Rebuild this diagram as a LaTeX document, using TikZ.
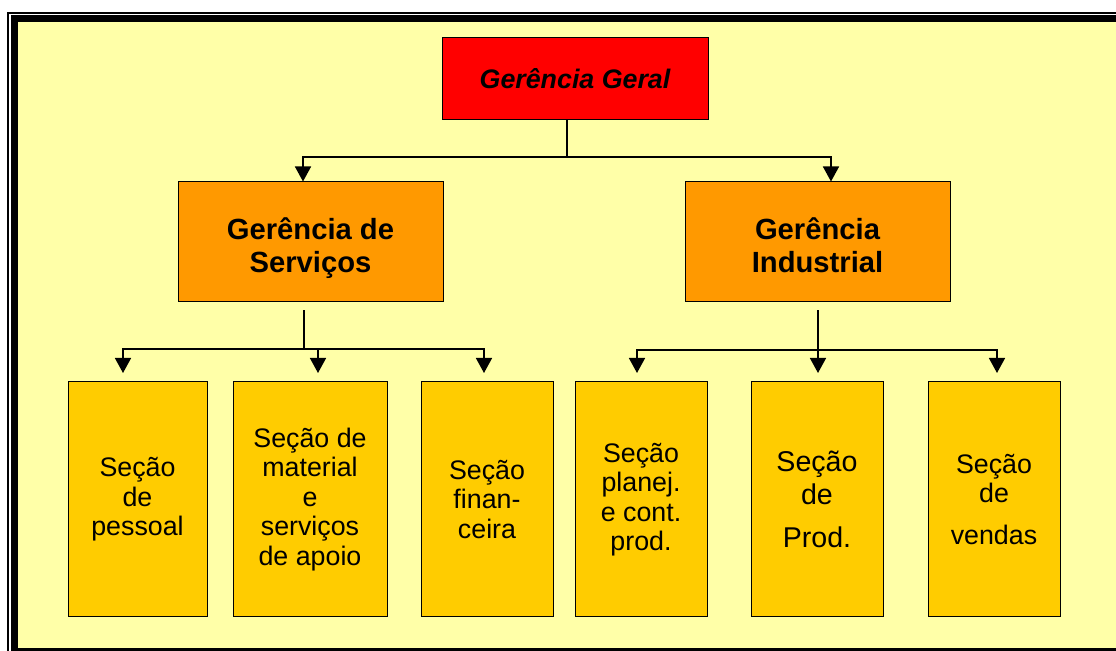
\documentclass[tikz,border=0pt]{standalone}
\usepackage{fontspec}
\setmainfont{Liberation Sans}
\usepackage{xcolor}
\usetikzlibrary{positioning, arrows.meta, calc}

\definecolor{fundo}{RGB}{255,255,168}
\definecolor{vermelho}{RGB}{255,0,0}
\definecolor{laranja}{RGB}{255,153,0}
\definecolor{ouro}{RGB}{255,204,0}

\tikzset{
  caixa/.style={draw=black, line width=0.5pt, align=center, inner sep=0pt},
  gerente/.style={caixa, fill=laranja, minimum width=132.5pt, minimum height=60pt,
    font=\fontsize{14.6}{16.5}\selectfont\bfseries},
  secao/.style={caixa, fill=ouro, minimum height=117.5pt,
    font=\fontsize{13.4}{14.75}\selectfont},
  linha/.style={line width=0.75pt},
  seta/.style={linha, -{Triangle[length=7.5pt,width=8pt]}}
}

\begin{document}
\begin{tikzpicture}[x=0.5pt, y=-0.5pt]
		\useasboundingbox (0,0) rectangle (1116,651);
		\clip (0,0) rectangle (1116,651);
		
		% Moldura
		\fill[white] (0,0) rectangle (1116,651);
		\draw[linha] (8,13) rectangle (1140,670);
		\fill[black] (11,15.5) rectangle (1135,665);
		\fill[fundo] (17.5,22) rectangle (1130,648);
		
		% Gerencias
		\node[caixa, fill=vermelho, minimum width=133pt, minimum height=41pt,
		font=\fontsize{13.4}{16}\selectfont\bfseries\itshape] (geral) at (575,79) {Ger\^encia Geral};
		\node[gerente] (serv) at (310.5,242) {\rule{0pt}{17pt}Ger\^encia de\\Servi\c{c}os};
		\node[gerente] (ind) at (817.5,242) {\rule{0pt}{14pt}Ger\^encia\\Industrial};
		
		% Secoes
		\node[secao, minimum width=69.5pt] (pes) at (137.5,499.5) {Se\c{c}\~ao\\de\\pessoal};
		\node[secao, minimum width=77pt] (mat) at (310,499.5) {Se\c{c}\~ao de\\material\\e\\servi\c{c}os\\de apoio};
		\node[secao, minimum width=66pt] (fin) at (487,499.5) {Se\c{c}\~ao\\finan-\\ceira};
		\node[secao, minimum width=66pt] (pla) at (641,499.5) {Se\c{c}\~ao\\planej.\\e cont.\\prod.};
		\node[secao, minimum width=66pt, font=\fontsize{14.3}{16.5}\selectfont] (prod) at (817,499.5) {Se\c{c}\~ao\\de\\[5pt]Prod.};
		\node[secao, minimum width=66pt] (ven) at (994,499.5) {Se\c{c}\~ao\\de\\[6pt]vendas};
		
		% Ligacoes do topo
		\coordinate (jg) at (567,157);
		\coordinate (ja) at (303,157);
		\coordinate (jb) at (831,157);
		\draw[linha] (geral.south -| jg) -- (jg);
		\draw[seta] (jg) -- (ja) -- (ja |- serv.north);
		\draw[seta] (jg) -- (jb) -- (jb |- ind.north);
		
		% Ligacoes de servicos
		\coordinate (js) at (304,349);
		\coordinate (t1) at (123,373);
		\coordinate (t2) at (318,373);
		\coordinate (t3) at (484,373);
		\draw[linha] ([yshift=-4pt]serv.south -| js) -- (js);
		\draw[seta] (js) -| (t1);
		\draw[seta] (js) -| (t2);
		\draw[seta] (js) -| (t3);
		
		% Ligacoes industriais
		\coordinate (ji) at (818,350);
		\coordinate (t4) at (637,373);
		\coordinate (t5) at (818,373);
		\coordinate (t6) at (997,373);
		\draw[seta] ([yshift=-4pt]ind.south -| ji) -- (t5);
		\draw[seta] (ji) -| (t4);
		\draw[seta] (ji) -| (t6);
		
	\end{tikzpicture}
\end{document}
